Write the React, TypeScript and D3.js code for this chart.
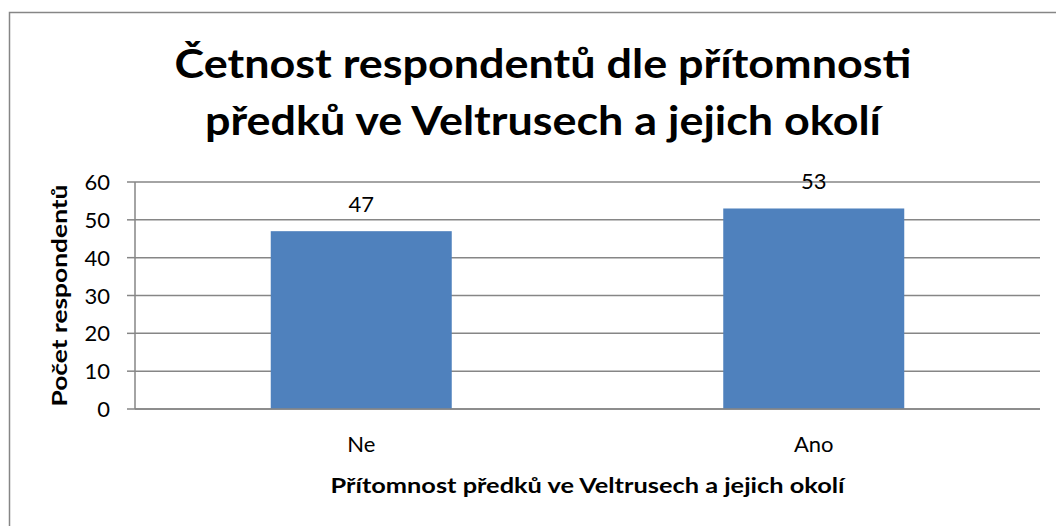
import React from "react";
import * as d3 from "d3";

const categories = ["Ne", "Ano"];
const values = [47, 53];
const yTicks = [0, 10, 20, 30, 40, 50, 60];
const titleLines = [
  "Četnost respondentů dle přítomnosti",
  "předků ve Veltrusech a jejich okolí",
];
const xAxisTitle = "Přítomnost předků ve Veltrusech a jejich okolí";
const yAxisTitle = "Počet respondentů";

const W = 1056;
const H = 526;
const FONT = "Lato, 'Open Sans', sans-serif";
const GRID = "#868686";
const BAR = "#4F81BD";

export default function App() {
  const left = 135;
  const right = 1040;
  const top = 182;
  const bottom = 409;

  const x = d3
    .scaleBand<string>()
    .domain(categories)
    .range([left, right])
    .paddingInner(0.6)
    .paddingOuter(0.3);
  const y = d3.scaleLinear().domain([0, 60]).range([bottom, top]);

  return (
    <svg
      width={W}
      height={H}
      style={{ position: "absolute", left: 0, top: 0, background: "#fff" }}
    >
      <rect x={9.5} y={12.5} width={1100} height={600} fill="#fff" stroke={GRID} strokeWidth={1.5} />

      {titleLines.map((t, i) => (
        <text
          key={i}
          x={543}
          y={78 + i * 57}
          textAnchor="middle"
          fontFamily={FONT}
          fontWeight={700}
          fontSize={41}
          textLength={i === 0 ? 737 : 676}
          lengthAdjust="spacingAndGlyphs"
          fill="#000"
        >
          {t}
        </text>
      ))}

      {yTicks.map((t) => (
        <g key={t}>
          <line x1={left} x2={right} y1={y(t)} y2={y(t)} stroke={GRID} strokeWidth={1.5} />
          <line x1={127} x2={left} y1={y(t)} y2={y(t)} stroke={GRID} strokeWidth={1.5} />
          <text
            x={110}
            y={y(t) + 8}
            textAnchor="end"
            fontFamily={FONT}
            fontSize={22}
            fill="#000"
          >
            {t}
          </text>
        </g>
      ))}

      {categories.map((c, i) => {
        const bx = x(c)!;
        const bw = x.bandwidth();
        return (
          <g key={c}>
            <rect x={bx} y={y(values[i])} width={bw} height={bottom - y(values[i])} fill={BAR} />
            <text
              x={bx + bw / 2}
              y={y(values[i]) - 19}
              textAnchor="middle"
              fontFamily={FONT}
              fontSize={22}
              fill="#000"
            >
              {values[i]}
            </text>
            <text
              x={bx + bw / 2}
              y={452}
              textAnchor="middle"
              fontFamily={FONT}
              fontSize={22}
              fill="#000"
            >
              {c}
            </text>
          </g>
        );
      })}

      <line x1={left} x2={left} y1={top} y2={bottom} stroke={GRID} strokeWidth={1.5} />
      <line x1={left} x2={right} y1={bottom} y2={bottom} stroke={GRID} strokeWidth={1.5} />

      <text
        x={(left + right) / 2}
        y={493}
        textAnchor="middle"
        fontFamily={FONT}
        fontWeight={700}
        fontSize={21}
        textLength={514}
        lengthAdjust="spacingAndGlyphs"
        fill="#000"
      >
        {xAxisTitle}
      </text>

      <text
        transform={`translate(67, ${(top + bottom) / 2}) rotate(-90)`}
        textAnchor="middle"
        fontFamily={FONT}
        fontWeight={700}
        fontSize={21}
        textLength={222}
        lengthAdjust="spacingAndGlyphs"
        fill="#000"
      >
        {yAxisTitle}
      </text>
    </svg>
  );
}
